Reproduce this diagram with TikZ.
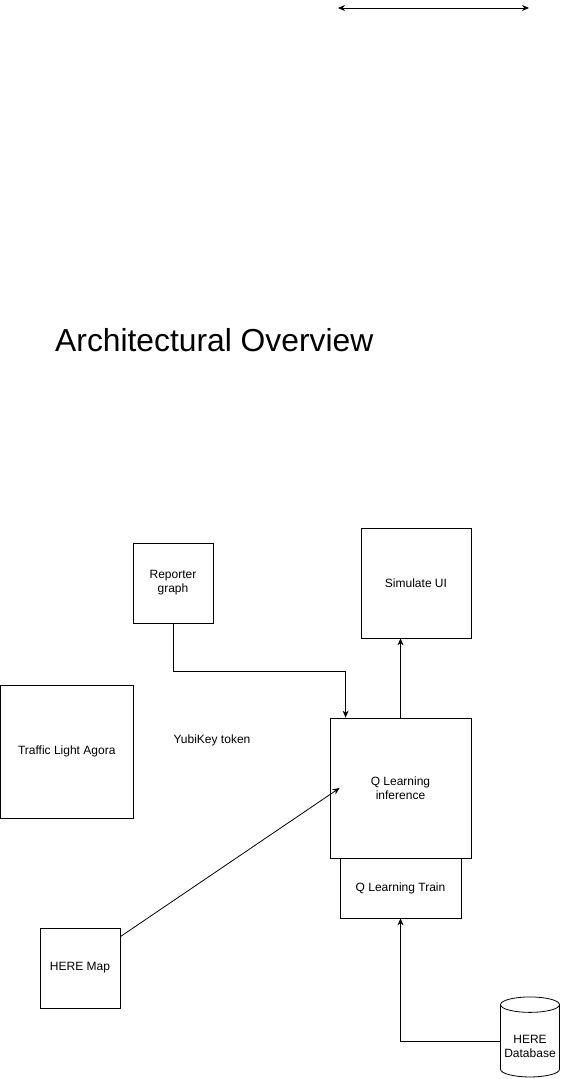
\documentclass[tikz,border=0pt]{standalone}
\usepackage{fontspec}
\setmainfont{Liberation Sans}
\usetikzlibrary{arrows.meta,shapes.geometric}
\begin{document}
\begin{tikzpicture}[x=1pt,y=-1pt,
    box/.style={draw,line width=0.8pt,align=center,inner sep=0pt},
    conn/.style={line width=0.8pt,-{Stealth[length=7pt,width=6pt]}},
    font=\fontsize{12}{14}\selectfont]
  % \clip (0,0) rectangle (561,1079);
  \useasboundingbox (0,0) rectangle (561,1079);

  % Marking the free double arrow at the top
  \coordinate (tl) at (338,8);
  \coordinate (tr) at (529,8);
  \draw [line width=0.8pt,{Stealth[length=7pt,width=6pt]}-{Stealth[length=7pt,width=6pt]}] (tl) -- (tr);%

  % Title
  \node [anchor=west,inner sep=0pt,font=\fontsize{31.8}{38}\selectfont] (title) at (55,340) {Architectural Overview};%

  % Drawing box Reporter graph
  \node [box,minimum width=80pt,minimum height=80pt] (rep) at (173,583) {Reporter\\graph};%

  % Drawing box Simulate UI
  \node [box,minimum width=110pt,minimum height=110pt] (sim) at (416,583) {Simulate UI};%

  % Drawing box Traffic Light Agora
  \node [box,minimum width=132.5pt,minimum height=133pt] (agora) at (66.75,751.5) {Traffic Light Agora};%

  % Marking text YubiKey token
  \node [inner sep=0pt] (yubi) at (212,740) {YubiKey token};%

  % Drawing box Q Learning inference
  \node [box,minimum width=141pt,minimum height=140pt] (qinf) at (400.5,788) {Q Learning\\inference};%

  % Drawing box Q Learning Train
  \node [box,minimum width=121pt,minimum height=60pt] (train) at (400.5,888) {Q Learning Train};%

  % Drawing box HERE Map
  \node [box,minimum width=80pt,minimum height=80pt] (map) at (80,968) {HERE Map};%

  % Drawing cylinder HERE Database
  \node [draw,line width=0.8pt,cylinder,shape border rotate=90,aspect=0.3,
         minimum width=59pt,minimum height=80pt,inner sep=0pt,align=center] (db) at (530,1041) {\\[6pt]HERE\\Database};%

  % Drawing connector Reporter graph -> Q Learning inference
  \draw [conn] (rep.south) -- ++(0,48) -| ([xshift=16pt]qinf.north west);%

  % Drawing connector Q Learning inference -> Simulate UI
  \draw [conn] (qinf.north) -- (qinf.north |- sim.south);%

  % Drawing connector HERE Map -> Q Learning inference
  \draw [conn] ([yshift=-9pt]map.north east) -- ([xshift=10pt]qinf.west);%

  % Drawing connector HERE Database -> Q Learning Train
  \draw [conn] (db.west) -| (train.south);%
\end{tikzpicture}
\end{document}
